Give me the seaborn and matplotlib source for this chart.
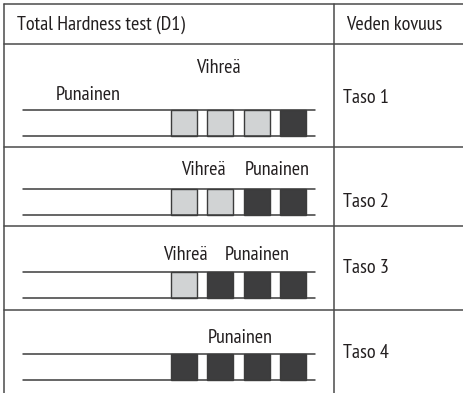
import matplotlib
matplotlib.use('Agg')
import matplotlib.pyplot as plt
import seaborn as sns

# table content
header = ["Total Hardness test (D1)", "Veden kovuus"]
levels = ["Taso 1", "Taso 2", "Taso 3", "Taso 4"]
# pad colour per row: g = green (light), r = red (dark)
pads = [["g", "g", "g", "r"],
        ["g", "g", "r", "r"],
        ["g", "r", "r", "r"],
        ["r", "r", "r", "r"]]
labels = [[("Vihreä", 218, 68), ("Punainen", 88, 95)],
          [("Vihreä", 203, 170), ("Punainen", 277, 170)],
          [("Vihreä", 185, 255), ("Punainen", 257, 255)],
          [("Punainen", 240, 338)]]

# layout (pixels)
row_lines = [4, 44, 147, 226, 310]
strip_top = [110, 189, 272, 354]
level_y = [98, 202, 268, 353]
strip_h = 26
pad_x0, pad_w, pad_pitch = 171, 26, 36.3

sns.set_theme(style="white")
plt.rcParams['font.family'] = ['PT Sans Narrow', 'DejaVu Sans']
colors = {"g": "#d1d3d4", "r": "#3d3d3e"}
line_c = "#3c3c3c"
grid_c = "#4a4a4a"
txt_c = "#231f20"
fs = 14.5

fig = plt.figure(figsize=(4.63, 3.93), dpi=100)
ax = fig.add_axes([0, 0, 1, 1])
ax.set_xlim(0, 463)
ax.set_ylim(393, 0)
ax.axis('off')

# table grid
for y in row_lines:
    ax.plot([4, 463], [y, y], color=grid_c, lw=1.1)
ax.plot([4, 4], [4, 393], color=grid_c, lw=1.1)
ax.plot([334, 334], [4, 393], color=grid_c, lw=1.1)

ax.text(17, 25, header[0], fontsize=fs, va='center', ha='left', color=txt_c)
ax.text(346, 25, header[1], fontsize=fs, va='center', ha='left', color=txt_c)

for i, lev in enumerate(levels):
    top = strip_top[i]
    ax.plot([23, 315], [top, top], color=line_c, lw=1.1)
    ax.plot([23, 315], [top + strip_h, top + strip_h], color=line_c, lw=1.1)
    xs = [pad_x0 + k * pad_pitch for k in range(len(pads[i]))]
    ax.bar(xs, [strip_h] * len(xs), bottom=top, width=pad_w, align='edge',
           color=[colors[p] for p in pads[i]], edgecolor=line_c, linewidth=1.0)
    for txt, x, y in labels[i]:
        ax.text(x, y, txt, fontsize=fs, ha='center', va='center', color=txt_c)
    ax.text(343, level_y[i], lev, fontsize=fs, ha='left', va='center', color=txt_c)

fig.savefig("out.png", dpi=100)
